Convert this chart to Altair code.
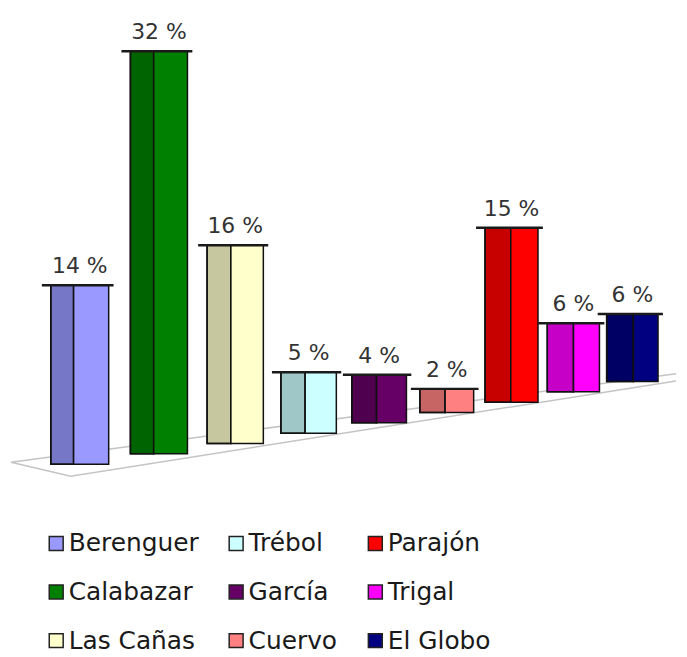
import altair as alt
import pandas as pd

# ---- data ----
names = ["Berenguer", "Calabazar", "Las Cañas", "Trébol", "García",
         "Cuervo", "Parajón", "Trigal", "El Globo"]
values = [14, 32, 16, 5, 4, 2, 15, 6, 6]
labels = ["14 %", "32 %", "16 %", "5 %", "4 %", "2 %", "15 %", "6 %", "6 %"]
colors = ["#9999FF", "#008000", "#FFFFCC", "#CCFFFF", "#660066",
          "#FF8080", "#FF0000", "#FF00FF", "#000080"]

# floor outline (in the same perspective units as the bars)
floor_u = [7.39, -0.768, -0.037, 7.39]
floor_v = [7.08, 0.156, -0.934, 6.51]

df = pd.DataFrame({"name": names, "value": values, "label": labels})
floor = pd.DataFrame({"u": floor_u, "v": floor_v, "k": list(range(len(floor_u)))})

color_scale = alt.Scale(domain=names, range=colors)
xs = alt.Scale(domain=[-0.793, 7.39], nice=False, zero=False)
ys = alt.Scale(domain=[-14.32, 35.56], nice=False, zero=False)

base = (
    alt.Chart(df)
    .transform_window(idx="row_number()")
    .transform_calculate(i="datum.idx - 1")
    .transform_calculate(
        u="datum.i - 0.0177*datum.i*datum.i",
        p="1 - 0.015*datum.i",
        b="0.809*datum.i",
    )
    .transform_calculate(
        t="datum.b + datum.value*datum.p",
        xl="datum.u - (0.28 + 0.006*datum.i)",
        xr="datum.u + (0.43 - 0.016*datum.i)",
    )
    .transform_calculate(
        xc="(datum.xl + datum.xr)/2",
        tl="datum.xl - 0.11",
        tr="datum.xr + 0.06",
    )
)

floor_line = alt.Chart(floor).mark_line(color="#c4c4c4", strokeWidth=1.5).encode(
    x=alt.X("u:Q", scale=xs, axis=None),
    y=alt.Y("v:Q", scale=ys, axis=None),
    order="k:Q",
)

legend = alt.Legend(
    title=None, orient="none", legendX=35, legendY=524, columns=3,
    symbolType="square", symbolSize=196, symbolStrokeColor="#222",
    symbolStrokeWidth=1.5, labelFontSize=25, labelFont="DejaVu Sans",
    labelColor="#1a1a1a", labelOffset=0, rowPadding=23, columnPadding=25,
    gridAlign="each", labelLimit=300, symbolOpacity=1, padding=0,
)

left_face = base.mark_rect(stroke="#111", strokeWidth=1.5).encode(
    x=alt.X("xl:Q", scale=xs, axis=None), x2="u:Q",
    y=alt.Y("b:Q", scale=ys, axis=None), y2="t:Q",
    color=alt.Color("name:N", scale=color_scale, legend=legend),
)
left_shade = base.mark_rect(fill="black", opacity=0.22).encode(
    x=alt.X("xl:Q", scale=xs, axis=None), x2="u:Q",
    y=alt.Y("b:Q", scale=ys, axis=None), y2="t:Q",
)
left_outline = base.mark_rect(fill=None, filled=False, stroke="#111", strokeWidth=1.5).encode(
    x=alt.X("xl:Q", scale=xs, axis=None), x2="u:Q",
    y=alt.Y("b:Q", scale=ys, axis=None), y2="t:Q",
)
right_face = base.mark_rect(stroke="#111", strokeWidth=1.5).encode(
    x=alt.X("u:Q", scale=xs, axis=None), x2="xr:Q",
    y=alt.Y("b:Q", scale=ys, axis=None), y2="t:Q",
    color=alt.Color("name:N", scale=color_scale, legend=legend),
)
top_rule = base.mark_rule(color="#1a1a1a", strokeWidth=2.5).encode(
    x=alt.X("tl:Q", scale=xs, axis=None), x2="tr:Q",
    y=alt.Y("t:Q", scale=ys, axis=None),
)
text = base.mark_text(baseline="bottom", dy=-7, fontSize=22,
                      font="DejaVu Sans", color="#333").encode(
    x=alt.X("xc:Q", scale=xs, axis=None),
    y=alt.Y("t:Q", scale=ys, axis=None),
    text="label:N",
)

chart = alt.layer(
    floor_line, left_face, left_shade, left_outline, right_face, top_rule, text
).properties(
    width=671, height=641, padding=0, background="white"
).configure_view(stroke=None)

chart.save("out.html", embed_options={"renderer": "svg", "actions": False})
